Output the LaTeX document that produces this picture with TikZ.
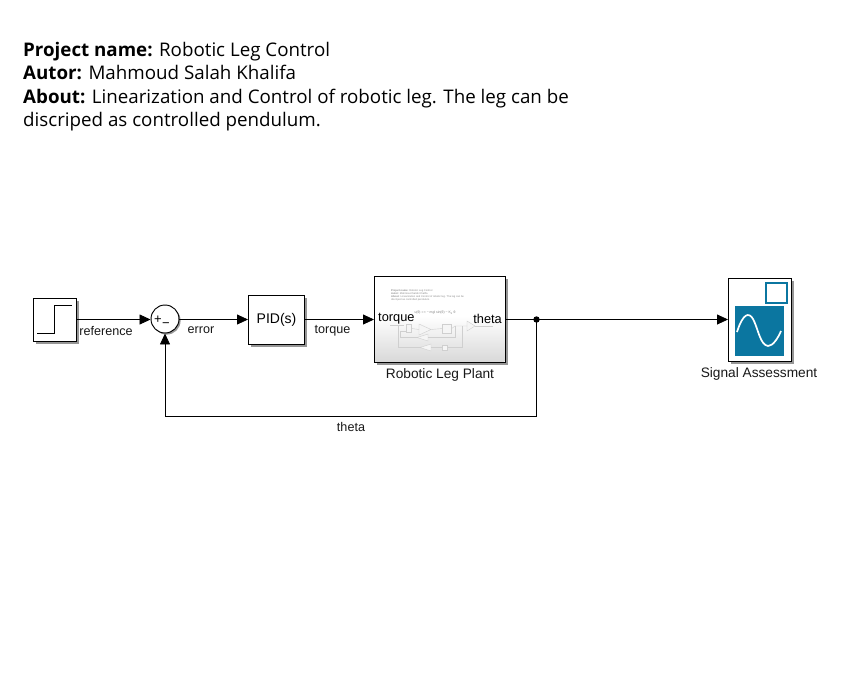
\documentclass[tikz,border=0pt]{standalone}
\usepackage{fontspec}
\setmainfont{Liberation Sans}
\newfontfamily\titlefont{Open Sans}
\usetikzlibrary{arrows.meta,shadows}
\definecolor{scopeblue}{HTML}{0B76A0}
\definecolor{faint}{HTML}{CFCFCF}
\tikzset{
  x=1pt,y=-1pt,
  blockbox/.style={draw=black,line width=0.95pt,fill=white,inner sep=0pt,anchor=north west,
    drop shadow={shadow xshift=2.2pt,shadow yshift=-2.2pt,fill=black!55,opacity=0.75}},
  wire/.style={draw=black,line width=0.8pt},
  arrowwire/.style={wire,-{Triangle[length=11pt,width=10pt]}},
  lbl/.style={inner sep=0pt,font=\fontsize{12.6}{15}\selectfont,text=black!90},
  blbl/.style={inner sep=0pt,font=\fontsize{13.7}{15}\selectfont,text=black!90},
  ttl/.style={inner sep=0pt,anchor=base west,font=\titlefont\fontsize{18.75}{22}\selectfont},
  ghost/.style={draw=faint,line width=0.4pt},
  ghostfill/.style={draw=faint,line width=0.4pt,fill=white!96!black},
  ghosttext/.style={inner sep=0pt,anchor=west,text=black!45,font=\fontsize{2.6}{3}\selectfont}
}
\begin{document}
\begin{tikzpicture}
\useasboundingbox (0,0) rectangle (858,672);
\fill[white] (0,0) rectangle (858,672);
% header
\node[ttl] (t1) at (23,56) {\textbf{Project name:} Robotic Leg Control};
\node[ttl] (t2) at (23,79.5) {\textbf{Autor:} Mahmoud Salah Khalifa};
\node[ttl] (t3) at (23,103) {\textbf{About:} Linearization and Control of robotic leg. The leg can be};
\node[ttl] (t4) at (23,126.5) {discriped as controlled pendulum.};
% step
\node[blockbox,minimum width=43pt,minimum height=43pt] (step) at (33,298) {};
\draw[black,line width=1pt] (37,333) -- (54.5,333) -- (54.5,305) -- (72,305);
% sum
\node[draw=black,line width=0.95pt,fill=white,circle,minimum size=28pt,inner sep=0pt,
  drop shadow={shadow xshift=1.6pt,shadow yshift=-1.6pt,fill=black!55,opacity=0.75}] (sum) at (165,319) {};
\node[inner sep=0pt,font=\fontsize{13}{13}\selectfont] (plus) at (158,320) {+};
\node[inner sep=0pt,font=\fontsize{13}{13}\selectfont] (minus) at (166,325) {\textminus};
% pid
\node[blockbox,minimum width=56pt,minimum height=49pt] (pid) at (248,295) {};
\node[inner sep=0pt,font=\fontsize{14}{16}\selectfont] (pidt) at (276.5,319.5) {PID(s)};
% plant
\node[blockbox,minimum width=131pt,minimum height=86pt] (plant) at (374,276) {};
\shade[bottom color=black!15,top color=white] (374.6,316) rectangle (504.4,361.4);
\draw[black,line width=0.95pt] (374,276) rectangle (505,362);
\node[ghosttext] (g1) at (391,290.8) {\textbf{Project name:} Robotic Leg Control};
\node[ghosttext] (g2) at (391,293.8) {\textbf{Autor:} Mahmoud Salah Khalifa};
\node[ghosttext] (g3) at (391,296.8) {\textbf{About:} Linearization and Control of robotic leg. The leg can be};
\node[ghosttext] (g4) at (391,299.8) {discriped as controlled pendulum.};
\node[inner sep=0pt,text=black!50,font=\fontsize{3.4}{4}\selectfont] (g5) at (435,312.5) {u(θ) = τ − mgl sin(θ) − K\textsubscript{d} θ};
% inner ghost diagram
\node[ghostfill,minimum width=5pt,minimum height=8pt,inner sep=0pt] (gs) at (409,328.5) {};
\node[ghostfill,minimum width=9pt,minimum height=9pt,inner sep=0pt] (gi) at (447,328.5) {};
\coordinate (gin) at (390,325.5);
\coordinate (gout) at (493,326);
\draw[ghostfill] (419,324) -- (431,329.5) -- (419,335) -- cycle;
\draw[ghostfill] (467,321) -- (475,326) -- (467,331) -- cycle;
\draw[ghostfill] (428,334) -- (428,341) -- (417,337.5) -- cycle;
\draw[ghostfill] (431,344) -- (431,351) -- (420,347.5) -- cycle;
\node[ghostfill,minimum width=5pt,minimum height=5pt,inner sep=0pt] (gd) at (445,347.5) {};
\draw[ghost] (gin) -- (404,325.5);
\draw[ghost] (gs.east) -- (419,329.5);
\draw[ghost] (431,329.5) -- (gi.west);
\draw[ghost] (gi.east) -- (455,326) -- (467,326);
\draw[ghost] (475,326) -- (gout);
\draw[ghost] (455,326) -- (455,337.5) -- (428,337.5);
\draw[ghost] (417,337.5) -- (400,337.5) -- (400,331) -- (406,331);
\draw[ghost] (462,326) -- (462,347.5) -- (gd.east);
\draw[ghost] (gd.west) -- (431,347.5);
\draw[ghost] (420,347.5) -- (398,347.5) -- (398,326);
% plant port labels
\node[inner sep=0pt,font=\fontsize{12.8}{15}\selectfont,anchor=west] (ptorque) at (378,319) {torque};
\node[inner sep=0pt,font=\fontsize{12.8}{15}\selectfont,anchor=east] (ptheta) at (502,319) {theta};
\node[blbl] (plabel) at (440,375) {Robotic Leg Plant};
% scope
\node[blockbox,minimum width=63pt,minimum height=83pt] (scope) at (728,278) {};
\draw[scopeblue,line width=2.2pt,fill=white] (766,283) rectangle (787,303);
\fill[scopeblue] (735,306) rectangle (784,356);
\draw[white,line width=1.7pt] (737,332) .. controls (743,313) and (749,312) .. (753,319)
  .. controls (758,328) and (760,345) .. (768,346) .. controls (773,346) and (778,338) .. (781,331);
\node[blbl] (slabel) at (759,373.5) {Signal Assessment};
% connectors
\coordinate (junc) at (536.5,319.5);
\coordinate (fb1) at (536.5,416);
\coordinate (fb2) at (sum.south |- fb1);
\draw[arrowwire] (step.east |- 0,319.5) -- (sum.west |- 0,319.5);
\draw[arrowwire] (sum.east |- 0,319.5) -- (pid.west |- 0,319.5);
\draw[arrowwire] (pid.east |- 0,319.5) -- (plant.west |- 0,319.5);
\draw[wire] (plant.east |- 0,319.5) -- (junc);
\draw[arrowwire] (junc) -- (scope.west |- 0,319.5);
\draw[arrowwire] (junc) -- (fb1) -- (fb2) -- (sum.south);
\fill[black] (junc) circle (3.2pt);
% signal labels
\node[lbl] (lref) at (106,330.5) {reference};
\node[lbl] (lerr) at (201,330.5) {error};
\node[lbl] (ltor) at (332.5,330.5) {torque};
\node[lbl] (lthe) at (351,427) {theta};
\end{tikzpicture}
\end{document}
